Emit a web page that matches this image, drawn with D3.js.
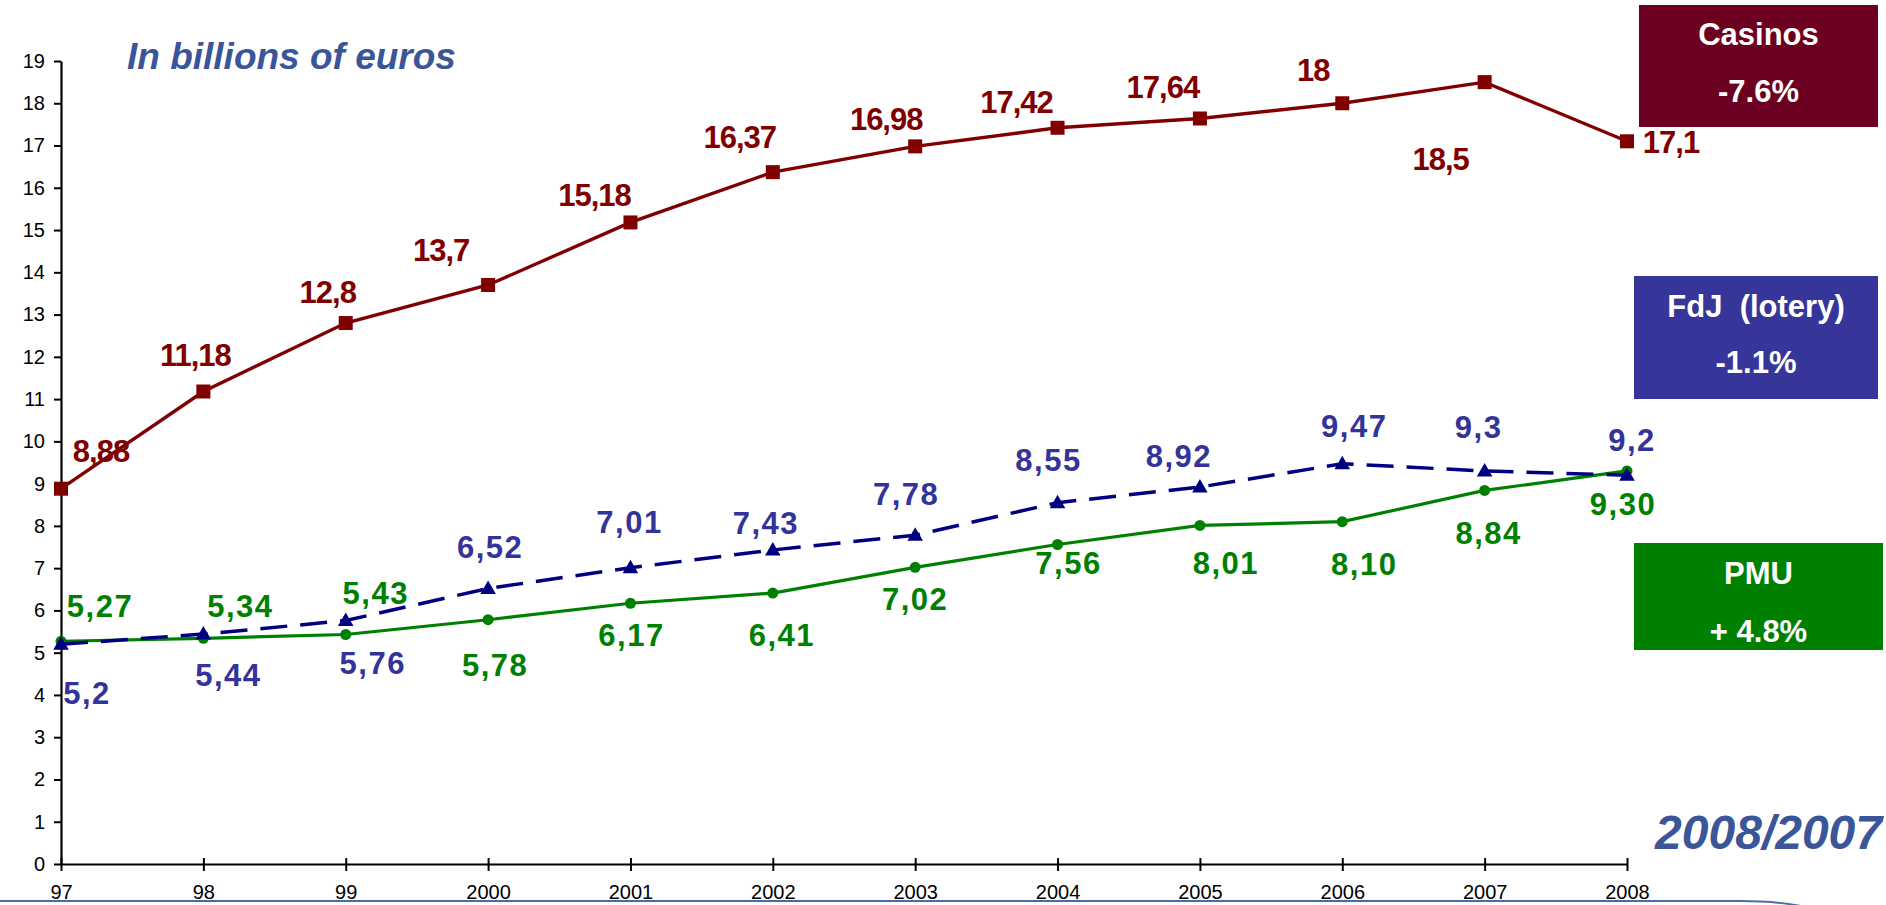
<!DOCTYPE html>
<html>
<head>
<meta charset="utf-8">
<script src="https://cdn.jsdelivr.net/npm/d3@7/dist/d3.min.js"></script>
<style>
  html, body { margin: 0; padding: 0; background: #fff; }
  svg { display: block; }
  text { font-family: "Liberation Sans", Arial, sans-serif; }
</style>
</head>
<body>
<svg id="chart" width="1886" height="905"></svg>
<script>
// ---- Data ----
const years = ["97", "98", "99", "2000", "2001", "2002", "2003", "2004", "2005", "2006", "2007", "2008"];
const casinos = [8.88, 11.18, 12.8, 13.7, 15.18, 16.37, 16.98, 17.42, 17.64, 18, 18.5, 17.1];
const fdj = [5.2, 5.44, 5.76, 6.52, 7.01, 7.43, 7.78, 8.55, 8.92, 9.47, 9.3, 9.2];
const pmu = [5.27, 5.34, 5.43, 5.78, 6.17, 6.41, 7.02, 7.56, 8.01, 8.10, 8.84, 9.30];
const casinosLabels = ["8,88", "11,18", "12,8", "13,7", "15,18", "16,37", "16,98", "17,42", "17,64", "18", "18,5", "17,1"];
const fdjLabels = ["5,2", "5,44", "5,76", "6,52", "7,01", "7,43", "7,78", "8,55", "8,92", "9,47", "9,3", "9,2"];
const pmuLabels = ["5,27", "5,34", "5,43", "5,78", "6,17", "6,41", "7,02", "7,56", "8,01", "8,10", "8,84", "9,30"];
const yTicks = [0,1,2,3,4,5,6,7,8,9,10,11,12,13,14,15,16,17,18,19];
const legendNames = ["Casinos", "FdJ  (lotery)", "PMU"];
const legendChanges = ["-7.6%", "-1.1%", "+ 4.8%"];

// ---- Layout (label offsets in px relative to the point) ----
const casinosOff = [[40,-27],[-8,-25],[-18,-20],[-47,-24],[-36,-16],[-33,-24],[-29,-16],[-41,-15],[-37,-20],[-29,-22],[-44,88],[44,12]];
const fdjOff = [[26,60],[25,52],[27,53],[2,-30],[-1,-35],[-7,-16],[-9,-30],[-9,-32],[-21,-20],[12,-27],[-6,-33],[5,-24]];
const pmuOff = [[39,-24],[37,-21],[30,-31],[7,56],[1,43],[9,53],[0,43],[11,30],[26,49],[22,53],[4,54],[-4,44]];

const svg = d3.select("#chart");
const x = d3.scalePoint().domain(years).range([61, 1627]);
const y = d3.scaleLinear().domain([0, 19]).range([864, 61]);

// Title
svg.append("text").attr("x", 127).attr("y", 69)
  .attr("font-size", 37).attr("font-weight", "bold").attr("font-style", "italic")
  .attr("fill", "#3a5699").text("In billions of euros");

// Y axis
const yAxis = svg.append("g").attr("transform", "translate(61,0)")
  .call(d3.axisLeft(y).tickValues(yTicks).tickSize(7).tickSizeOuter(0).tickFormat(d3.format("d")));
yAxis.select(".domain").attr("stroke", "#000").attr("stroke-width", 2.2);
yAxis.selectAll(".tick line").attr("stroke", "#000").attr("stroke-width", 2);
yAxis.selectAll(".tick text").attr("font-size", 20).attr("fill", "#000").attr("x", -16)
  .attr("font-family", "Liberation Sans, Arial, sans-serif");

// X axis
const xAxis = svg.append("g").attr("transform", "translate(0,864)")
  .call(d3.axisBottom(x).tickSize(0).tickSizeOuter(0));
xAxis.select(".domain").attr("stroke", "#000").attr("stroke-width", 2.2);
xAxis.selectAll(".tick line").attr("y1", -6).attr("y2", 7).attr("stroke", "#000").attr("stroke-width", 2);
xAxis.selectAll(".tick text").attr("font-size", 20).attr("fill", "#000").attr("y", 35).attr("dy", 0)
  .attr("font-family", "Liberation Sans, Arial, sans-serif");

// Bottom decorative line
svg.append("path")
  .attr("d", "M0,901 L1740,901 C1770,901 1790,903 1810,908")
  .attr("fill", "none").attr("stroke", "#4b6aa8").attr("stroke-width", 2);

const line = d3.line().x((d, i) => x(years[i])).y(d => y(d));

function drawLabels(vals, labels, offs, color, ls, size) {
  svg.append("g").selectAll("text").data(vals).join("text")
    .attr("x", (d, i) => x(years[i]) + offs[i][0])
    .attr("y", (d, i) => y(d) + offs[i][1])
    .attr("text-anchor", "middle")
    .attr("font-size", size).attr("font-weight", "bold")
    .attr("letter-spacing", ls)
    .attr("fill", color)
    .text((d, i) => labels[i]);
}

// Labels
drawLabels(casinos, casinosLabels, casinosOff, "#800000", -1, 31);
drawLabels(fdj, fdjLabels, fdjOff, "#333399", 1.5, 31);
drawLabels(pmu, pmuLabels, pmuOff, "#008000", 1.5, 31);

// PMU line
svg.append("path").datum(pmu).attr("d", line)
  .attr("fill", "none").attr("stroke", "#008000").attr("stroke-width", 3.2);
svg.append("g").selectAll("circle").data(pmu).join("circle")
  .attr("cx", (d, i) => x(years[i])).attr("cy", d => y(d)).attr("r", 5.5).attr("fill", "#008000");

// FdJ line
svg.append("path").datum(fdj).attr("d", line)
  .attr("fill", "none").attr("stroke", "#000080").attr("stroke-width", 3.5)
  .attr("stroke-dasharray", "27,13");
const tri = d3.symbol().type(d3.symbolTriangle).size(105);
svg.append("g").selectAll("path").data(fdj).join("path")
  .attr("d", tri)
  .attr("transform", (d, i) => `translate(${x(years[i])},${y(d) + 1})`)
  .attr("fill", "#000080");

// Casinos line
svg.append("path").datum(casinos).attr("d", line)
  .attr("fill", "none").attr("stroke", "#800000").attr("stroke-width", 3.4);
svg.append("g").selectAll("rect").data(casinos).join("rect")
  .attr("x", (d, i) => x(years[i]) - 7).attr("y", d => y(d) - 7)
  .attr("width", 14).attr("height", 14).attr("fill", "#800000");

// Legend boxes
const legendColors = ["#6c0020", "#36369a", "#008000"];
const boxes = [
  {x: 1639, y: 5, w: 239, h: 122, b1: 45, b2: 102},
  {x: 1634, y: 276, w: 244, h: 123, b1: 317, b2: 373},
  {x: 1634, y: 543, w: 249, h: 107, b1: 584, b2: 642}
];
const lg = svg.append("g").selectAll("g").data(legendNames).join("g");
lg.append("rect")
  .attr("x", (d, i) => boxes[i].x).attr("y", (d, i) => boxes[i].y)
  .attr("width", (d, i) => boxes[i].w).attr("height", (d, i) => boxes[i].h)
  .attr("fill", (d, i) => legendColors[i]);
lg.append("text")
  .attr("x", (d, i) => boxes[i].x + boxes[i].w / 2).attr("y", (d, i) => boxes[i].b1)
  .attr("text-anchor", "middle").attr("font-size", 31).attr("font-weight", "bold")
  .attr("fill", "#fff").style("white-space", "pre").text(d => d);
lg.append("text")
  .attr("x", (d, i) => boxes[i].x + boxes[i].w / 2).attr("y", (d, i) => boxes[i].b2)
  .attr("text-anchor", "middle").attr("font-size", 31).attr("font-weight", "bold")
  .attr("fill", "#fff").style("white-space", "pre").text((d, i) => legendChanges[i]);

// Period label
svg.append("text").attr("x", 1882).attr("y", 849)
  .attr("text-anchor", "end")
  .attr("font-size", 48).attr("font-weight", "bold").attr("font-style", "italic")
  .attr("fill", "#3a5699").text("2008/2007");
</script>
</body>
</html>
